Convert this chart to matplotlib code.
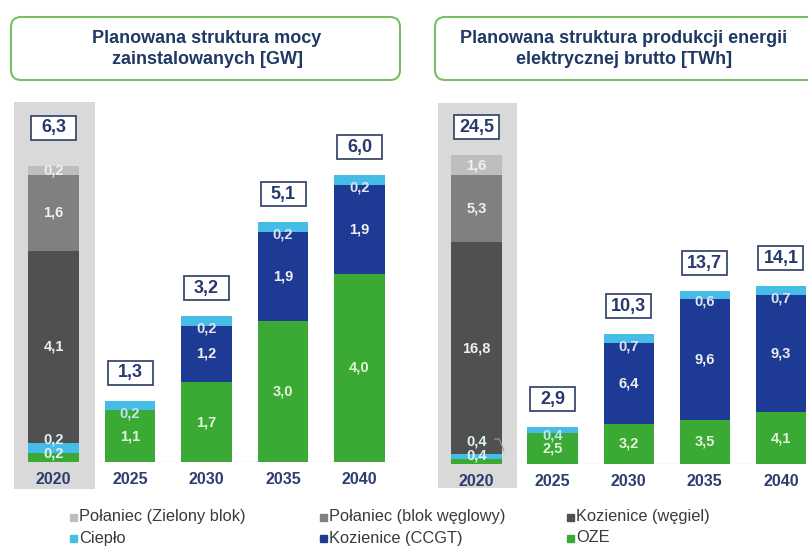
import matplotlib
matplotlib.use("Agg")
import numpy as np
import matplotlib.pyplot as plt
import matplotlib.transforms as mtransforms
from matplotlib.patches import Rectangle, FancyBboxPatch

plt.rcParams['font.family'] = ['Liberation Sans', 'DejaVu Sans']

years = ["2020", "2025", "2030", "2035", "2040"]
series = ["Połaniec (Zielony blok)", "Połaniec (blok węglowy)", "Kozienice (węgiel)",
          "Ciepło", "Kozienice (CCGT)", "OZE"]
colors = {"Połaniec (Zielony blok)": "#BEBEBE", "Połaniec (blok węglowy)": "#808080",
          "Kozienice (węgiel)": "#505050", "Ciepło": "#45BDE6",
          "Kozienice (CCGT)": "#1D3A94", "OZE": "#3AAA35"}

# moc zainstalowana [GW]
gw_oze = [0.2, 1.1, 1.7, 3.0, 4.0]
gw_ccgt = [0.0, 0.0, 1.2, 1.9, 1.9]
gw_cieplo = [0.2, 0.2, 0.2, 0.2, 0.2]
gw_koz_wegiel = [4.1, 0.0, 0.0, 0.0, 0.0]
gw_pol_blok = [1.6, 0.0, 0.0, 0.0, 0.0]
gw_pol_zielony = [0.2, 0.0, 0.0, 0.0, 0.0]
gw_total = [6.3, 1.3, 3.2, 5.1, 6.0]

# produkcja energii elektrycznej brutto [TWh]
twh_oze = [0.4, 2.5, 3.2, 3.5, 4.1]
twh_ccgt = [0.0, 0.0, 6.4, 9.6, 9.3]
twh_cieplo = [0.4, 0.4, 0.7, 0.6, 0.7]
twh_koz_wegiel = [16.8, 0.0, 0.0, 0.0, 0.0]
twh_pol_blok = [5.3, 0.0, 0.0, 0.0, 0.0]
twh_pol_zielony = [1.6, 0.0, 0.0, 0.0, 0.0]
twh_total = [24.5, 2.9, 10.3, 13.7, 14.1]

NAVY = "#27396B"
W, H = 808, 548
fig = plt.figure(figsize=(W / 100, H / 100), dpi=100)
PT = 0.72  # points per pixel


def fmt(v):
    return f"{v:.1f}".replace(".", ",")


def panel(x0, x1, base, top, c0, step, scale, col, layers, totals,
          first_box=28, leader=False):
    ax = fig.add_axes([x0 / W, 1 - base / H, (x1 - x0) / W, (base - top) / H])
    ax.set_xlim((x0 - c0) / step, (x1 - c0) / step)
    ax.set_ylim(0, (base - top) / scale)
    ax.axis("off")

    # highlighted 2020 column
    cx0, cx1 = (col[0] - c0) / step, (col[1] - c0) / step
    cy0, cy1 = (base - col[3]) / scale, (base - col[2]) / scale
    ax.add_patch(Rectangle((cx0, cy0), cx1 - cx0, cy1 - cy0, color="#D9D9D9",
                           zorder=0, clip_on=False, lw=0))
    ax.axhline(0, color="#E4E4E4", lw=1, zorder=1)

    x = np.arange(len(years))
    bottom = np.zeros(len(years))
    for name, vals in layers:
        vals = np.array(vals)
        ax.bar(x, vals, width=0.66, bottom=bottom, color=colors[name], zorder=2, lw=0)
        for i, v in enumerate(vals):
            if v == 0:
                continue
            if i == 0 and name in ("OZE", "Ciepło"):
                off = 8 if name == "OZE" else 22
                ax.annotate(fmt(v), (i, 0), xytext=(0, off * PT), textcoords="offset points",
                            ha="center", va="center", fontsize=10.5, fontweight="bold",
                            color="#E2F1F6", zorder=4)
            elif name == "Ciepło":
                under = "#BFE6F2" if layers[1][1][i] == 0 else "#DDE3EF"
                ax.annotate(fmt(v), (i, bottom[i]), xytext=(0, -3 * PT),
                            textcoords="offset points", ha="center", va="center",
                            fontsize=10.5, fontweight="bold", color=under, zorder=4)
            else:
                tc = "#E4F4DA" if name == "OZE" else "#F0F0F0"
                ax.text(i, bottom[i] + v / 2, fmt(v), ha="center", va="center",
                        fontsize=10.5, fontweight="bold", color=tc, zorder=4)
        bottom += vals

    if leader:
        y1 = 25 / scale
        y2 = 13 / scale
        ax.plot([0.24, 0.30, 0.36], [y1, y1, y2], color="#9A9A9A", lw=0.8,
                zorder=5, clip_on=False)

    # totals in framed boxes above the bars
    for i, t in enumerate(totals):
        off = first_box if i == 0 else 28
        trans = fig.dpi_scale_trans + mtransforms.ScaledTranslation(i, bottom[i], ax.transData)
        ax.add_patch(Rectangle((-0.225, (off - 12) / 100), 0.45, 0.24, transform=trans,
                               facecolor="white", edgecolor="#3A4A72", lw=1.3,
                               zorder=5, clip_on=False))
        ax.annotate(fmt(t), (i, bottom[i]), xytext=(0, off * PT), textcoords="offset points",
                    ha="center", va="center", fontsize=13, fontweight="bold",
                    color=NAVY, zorder=6)

    for i, y in enumerate(years):
        ax.annotate(y, (i, 0), xytext=(0, -17 * PT), textcoords="offset points",
                    ha="center", va="center", fontsize=11.5, fontweight="bold",
                    color="#2E3D70", annotation_clip=False)
    return ax


gw_layers = [("OZE", gw_oze), ("Kozienice (CCGT)", gw_ccgt), ("Ciepło", gw_cieplo),
             ("Kozienice (węgiel)", gw_koz_wegiel), ("Połaniec (blok węglowy)", gw_pol_blok),
             ("Połaniec (Zielony blok)", gw_pol_zielony)]
twh_layers = [("OZE", twh_oze), ("Kozienice (CCGT)", twh_ccgt), ("Ciepło", twh_cieplo),
              ("Kozienice (węgiel)", twh_koz_wegiel), ("Połaniec (blok węglowy)", twh_pol_blok),
              ("Połaniec (Zielony blok)", twh_pol_zielony)]

panel(14, 400, 462, 100, 53.5, 76.5, 47.0, (14, 95, 102, 489), gw_layers, gw_total,
      first_box=38)
panel(438, 808, 464, 100, 476.5, 76.1, 12.6, (438, 517, 103, 488), twh_layers, twh_total,
      leader=True)

# title boxes
titles = [("Planowana struktura mocy\nzainstalowanych [GW]", 11, 400, 207),
          ("Planowana struktura produkcji energii\nelektrycznej brutto [TWh]", 435, 845, 624)]
for txt, bx0, bx1, tx in titles:
    fig.patches.append(FancyBboxPatch((bx0 / 100, (H - 80) / 100), (bx1 - bx0) / 100, 0.63,
                                      boxstyle="round,pad=0,rounding_size=0.1",
                                      transform=fig.dpi_scale_trans, facecolor="white",
                                      edgecolor="#79BE66", lw=1.5, figure=fig))
    fig.text(tx / W, 1 - 49 / H, txt, ha="center", va="center", fontsize=13,
             fontweight="bold", color="#1F3864", linespacing=1.3)

# legend
leg_x = [70, 320, 567]
leg_y = [517, 538]
for k, name in enumerate(series):
    lx, ly = leg_x[k % 3], leg_y[k // 3]
    fig.patches.append(Rectangle((lx / 100, (H - ly - 3.5) / 100), 0.07, 0.07,
                                 transform=fig.dpi_scale_trans, color=colors[name], figure=fig))
    fig.text((lx + 9) / W, 1 - ly / H, name, ha="left", va="center", fontsize=11.8,
             color="#3A3A3A")

fig.savefig("out.png", dpi=100)
